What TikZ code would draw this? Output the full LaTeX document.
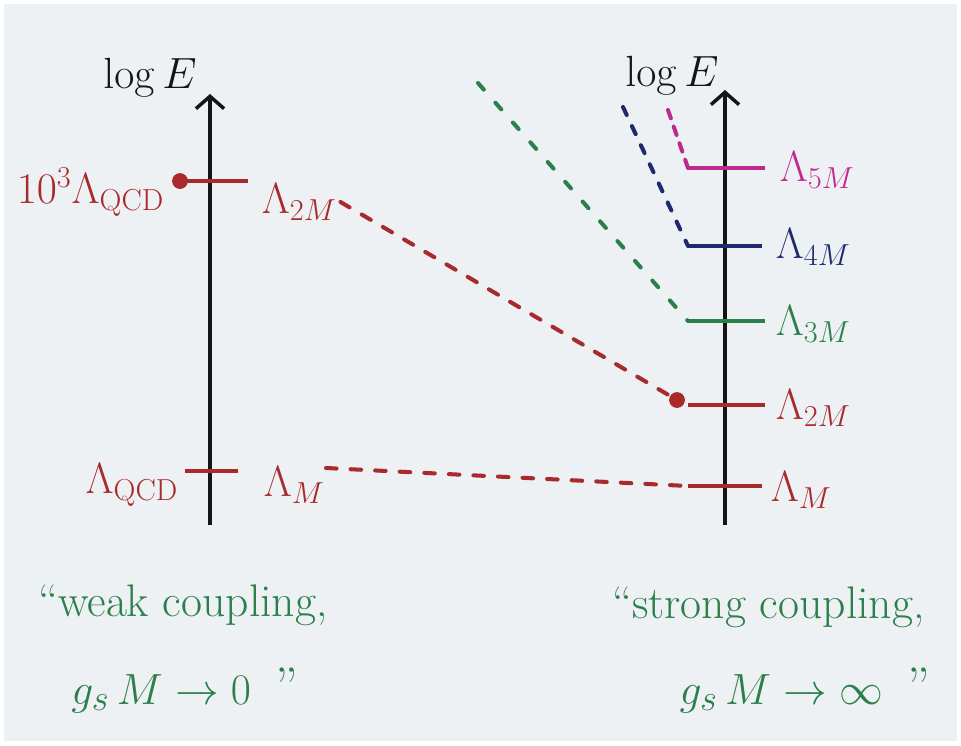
\documentclass[tikz,border=0pt]{standalone}
\usepackage{tikz}
\usepackage{xcolor}
\usetikzlibrary{arrows.meta, positioning}
\definecolor{PenBlack}{HTML}{151515}
\definecolor{PenRed}{HTML}{A82A2C}
\definecolor{PenGreen}{HTML}{2A7F4A}
\definecolor{PenNavy}{HTML}{1F2A6E}
\definecolor{PenMagenta}{HTML}{BF2A8E}
\definecolor{PaperBG}{HTML}{EEF1F4}
\tikzset{
    axis/.style={
        -{Straight Barb[length=7pt, width=16pt, line width=2pt]},
        line width=2.8pt,
        PenBlack
    },
    scalebar/.style={
        line width=2.3pt,
        draw=#1
    },
    scalebar/.default=PenRed,
    dashlink/.style={
        draw=#1,
        line width=2.3pt,
        line cap=round,
        dash pattern=on 6pt off 8pt
    },
    dashlink/.default=PenRed,
    axislabel/.style={
        text=PenBlack,
        font=\fontsize{25}{29}\selectfont,
        inner sep=2pt
    },
    lvl/.style={
        text=#1,
        font=\fontsize{27}{31}\selectfont,
        inner sep=2pt
    },
    lvl/.default=PenRed,
    dot/.style={
        circle,
        fill=#1,
        inner sep=0pt,
        minimum size=9pt
    },
    dot/.default=PenRed,
    caption/.style={
        text=PenGreen,
        font=\fontsize{26}{30}\selectfont,
        inner sep=0pt
    }
}
\begin{document}
\begin{tikzpicture}[x=0.02cm, y=-0.02cm]
        % Paper
        \fill[white] (0,0) rectangle (961,745);
        \fill[PaperBG] (4,4) rectangle (957,741);
        \useasboundingbox (0,0) rectangle (961,745);

        % Left axis - weak coupling
        \coordinate (lbot) at (210,525);
        \coordinate (ltop) at (210,94);
        \draw[axis] (lbot) -- (ltop);
        \node[axislabel] (llog) at (150,78) {$\log E$};

        % Left levels
        \node[dot=PenRed] (ldot) at (180,181) {};
        \coordinate (l2e) at (248,181);
        \draw[scalebar=PenRed] (ldot.center) -- (l2e);
        \node[lvl=PenRed, anchor=east] (lqcd3) at (168,192) {$10^3\Lambda_{\mathrm{QCD}}$};
        \node[lvl=PenRed, anchor=west] (l2lab) at (258,202) {$\Lambda_{2M}$};

        \coordinate (l1w) at (185,471);
        \coordinate (l1e) at (238,471);
        \draw[scalebar=PenRed] (l1w) -- (l1e);
        \node[lvl=PenRed, anchor=east] (lqcd) at (182,485) {$\Lambda_{\mathrm{QCD}}$};
        \node[lvl=PenRed, anchor=west] (l1lab) at (260,485) {$\Lambda_{M}$};

        % Right axis - strong coupling
        \coordinate (rbot) at (725,525);
        \coordinate (rtop) at (725,90);
        \draw[axis] (rbot) -- (rtop);
        \node[axislabel] (rlog) at (672,76) {$\log E$};

        % Right levels
        \coordinate (r5w) at (688,168); \coordinate (r5e) at (765,168);
        \coordinate (r4w) at (688,246); \coordinate (r4e) at (762,246);
        \coordinate (r3w) at (688,321); \coordinate (r3e) at (765,321);
        \coordinate (r2w) at (688,405); \coordinate (r2e) at (765,405);
        \coordinate (r1w) at (688,486); \coordinate (r1e) at (762,486);
        \draw[scalebar=PenMagenta] (r5w) -- (r5e);
        \draw[scalebar=PenNavy] (r4w) -- (r4e);
        \draw[scalebar=PenGreen] (r3w) -- (r3e);
        \draw[scalebar=PenRed] (r2w) -- (r2e);
        \draw[scalebar=PenRed] (r1w) -- (r1e);
        \node[dot=PenRed] (rdot) at (677,400) {};

        \node[lvl=PenMagenta, anchor=west] (r5lab) at (776,170) {$\Lambda_{5M}$};
        \node[lvl=PenNavy, anchor=west] (r4lab) at (772,247) {$\Lambda_{4M}$};
        \node[lvl=PenGreen, anchor=west] (r3lab) at (772,324) {$\Lambda_{3M}$};
        \node[lvl=PenRed, anchor=west] (r2lab) at (772,408) {$\Lambda_{2M}$};
        \node[lvl=PenRed, anchor=west] (r1lab) at (767,490) {$\Lambda_{M}$};

        % Dashed links
        \coordinate (l1from) at (326,468);
        \coordinate (g3from) at (478,83);
        \coordinate (b4from) at (623,107);
        \coordinate (m5from) at (668,110);
        \draw[dashlink=PenRed] (l2lab.east) -- (rdot);
        \draw[dashlink=PenRed] (l1from) -- (r1w);
        \draw[dashlink=PenGreen, dash pattern=on 5pt off 10pt] (g3from) -- (r3w);
        \draw[dashlink=PenNavy, dash pattern=on 5pt off 7pt] (b4from) -- (r4w);
        \draw[dashlink=PenMagenta, dash pattern=on 5pt off 5pt] (m5from) -- (r5w);

        % Captions
        \node[caption, anchor=west] (weak) at (38,605) {“weak coupling,};
        \node[caption, font=\fontsize{30}{34}\selectfont] (weaklim) at (185,690) {$g_s\, M \to 0$ \,”};
        \node[caption, anchor=west] (strong) at (612,607) {“strong coupling,};
        \node[caption, font=\fontsize{30}{34}\selectfont] (stronglim) at (805,690) {$g_s\, M \to \infty$ \,”};
\end{tikzpicture}
\end{document}
